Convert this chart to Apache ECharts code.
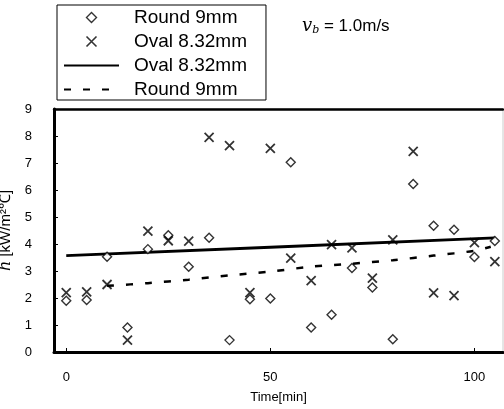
<!DOCTYPE html>
<html>
<head>
<meta charset="utf-8">
<script src="https://cdn.jsdelivr.net/npm/echarts@6/dist/echarts.min.js"></script>
<style>
  html, body { margin: 0; padding: 0; background: #fff; }
  #chart { width: 504px; height: 409px; }
</style>
</head>
<body>
<div id="chart"></div>
<script>
// time axis (min) shared by both measured series
var times = [0, 5, 10, 15, 20, 25, 30, 35, 40, 45, 50, 55, 60, 65, 70, 75, 80, 85, 90, 95, 100, 105];
// measured h, Round 9mm (diamonds)
var roundValues = [1.9, 1.93, 3.53, 0.91, 3.81, 4.32, 3.16, 4.23, 0.44, 1.95, 1.98, 7.03, 0.91, 1.38, 3.11, 2.39, 0.47, 6.22, 4.68, 4.53, 3.52, 4.11];
// measured h, Oval 8.32mm (crosses)
var ovalValues = [2.2, 2.23, 2.5, 0.44, 4.48, 4.12, 4.11, 7.95, 7.64, 2.2, 7.54, 3.48, 2.64, 3.98, 3.86, 2.74, 4.15, 7.43, 2.19, 2.09, 4.05, 3.35];
// fitted curves
var ovalFitTime = [0, 50, 105];
var ovalFit = [3.57, 3.88, 4.23];
var roundFitTime = [10, 20, 30, 40, 50, 60, 70, 80, 90, 100, 104];
var roundFit = [2.45, 2.55, 2.68, 2.84, 2.98, 3.16, 3.27, 3.4, 3.57, 3.75, 3.9];
var xTicks = [0, 50, 100];

function pairs(xs, ys) {
  return xs.map(function (x, i) { return [x, ys[i]]; });
}

// path symbols so the legend keeps their aspect
var diamondPath = 'path://M5,0L10,5L5,10L0,5Z';
var crossPath = 'path://M0,0L10,10M10,0L0,10';
var font = 'Liberation Sans, Arial, sans-serif';

var myChart = echarts.init(document.getElementById('chart'), null, { renderer: 'canvas' });

myChart.setOption({
  backgroundColor: '#fff',
  animation: false,
  textStyle: { fontFamily: font, color: '#000' },
  grid: {
    left: 54, right: 1, top: 109, bottom: 57,
    containLabel: false, outerBoundsMode: 'none',
    show: true, borderColor: '#ccc', borderWidth: 1
  },
  legend: {
    orient: 'vertical',
    left: 57,
    top: 5,
    padding: [3, 19, 1, 6],
    itemGap: 5,
    itemWidth: 55,
    itemHeight: 10,
    symbolKeepAspect: true,
    borderColor: '#000',
    borderWidth: 1,
    data: [
      { name: 'Round 9mm', itemStyle: { borderWidth: 1.4 } },
      { name: 'Oval 8.32mm', itemStyle: { borderWidth: 1.6 } },
      { name: 'Oval 8.32mm (fit)', itemStyle: { opacity: 0 } },
      { name: 'Round 9mm (fit)', itemStyle: { opacity: 0 } }
    ],
    formatter: function (name) { return name.replace(' (fit)', ''); },
    textStyle: { fontSize: 19, fontFamily: font, color: '#000', padding: [0, 0, 0, 10] }
  },
  graphic: [{
    type: 'text',
    left: 302,
    top: 17,
    style: {
      text: '{v|v}{b|b}{t| = 1.0m/s}',
      rich: {
        v: { fontSize: 18, fontStyle: 'italic', fontFamily: 'DejaVu Serif, serif', fill: '#000' },
        b: { fontSize: 11, fontStyle: 'italic', fontFamily: 'DejaVu Serif, serif', fill: '#000', verticalAlign: 'bottom', padding: [8, 0, 0, 0] },
        t: { fontSize: 17, fontFamily: font, fill: '#000' }
      }
    }
  }],
  xAxis: [{
    type: 'value',
    min: -3,
    max: 107,
    name: 'Time[min]',
    nameLocation: 'middle',
    nameGap: 39,
    nameTextStyle: { fontSize: 13, color: '#000', fontFamily: font },
    splitLine: { show: false },
    axisLine: { onZero: false, lineStyle: { color: '#000', width: 3 } },
    axisTick: { inside: true, length: 4, customValues: xTicks, lineStyle: { color: '#000' } },
    axisLabel: { customValues: xTicks, margin: 19, fontSize: 13, color: '#000', fontFamily: font }
  }, {
    type: 'value',
    position: 'top',
    min: -3,
    max: 107,
    splitLine: { show: false },
    axisLine: { show: true, onZero: false, lineStyle: { color: '#000', width: 2.5 } },
    axisTick: { show: false },
    axisLabel: { show: false }
  }],
  yAxis: {
    type: 'value',
    min: 0,
    max: 9,
    interval: 1,
    name: '{i|h} [kW/m²℃]',
    nameLocation: 'middle',
    nameRotate: 90,
    nameGap: 29,
    nameTextStyle: {
      fontSize: 15, color: '#000', fontFamily: font,
      rich: { i: { fontSize: 16, fontStyle: 'italic', fontFamily: 'DejaVu Serif, serif', color: '#000' } }
    },
    splitLine: { show: false },
    axisLine: { show: true, onZero: false, lineStyle: { color: '#000', width: 3 } },
    axisTick: { inside: true, length: 4, lineStyle: { color: '#000' } },
    axisLabel: { margin: 22, fontSize: 13, color: '#000', fontFamily: font }
  },
  series: [
    {
      name: 'Round 9mm',
      type: 'scatter',
      symbol: diamondPath,
      symbolSize: 9,
      symbolKeepAspect: true,
      itemStyle: { color: '#fff', borderColor: '#000', borderWidth: 1.4 },
      data: pairs(times, roundValues),
      z: 3
    },
    {
      name: 'Oval 8.32mm',
      type: 'scatter',
      symbol: crossPath,
      symbolSize: 9,
      symbolKeepAspect: true,
      itemStyle: { color: 'none', borderColor: '#000', borderWidth: 1.8 },
      data: pairs(times, ovalValues),
      z: 4
    },
    {
      name: 'Oval 8.32mm (fit)',
      type: 'line',
      symbol: 'none',
      lineStyle: { color: '#000', width: 2.8 },
      itemStyle: { color: '#000' },
      data: pairs(ovalFitTime, ovalFit),
      z: 2
    },
    {
      name: 'Round 9mm (fit)',
      type: 'line',
      symbol: 'none',
      smooth: 0.3,
      lineStyle: { color: '#000', width: 2.5, type: [7, 12] },
      itemStyle: { color: '#000' },
      data: pairs(roundFitTime, roundFit),
      z: 2
    }
  ]
});
</script>
</body>
</html>
